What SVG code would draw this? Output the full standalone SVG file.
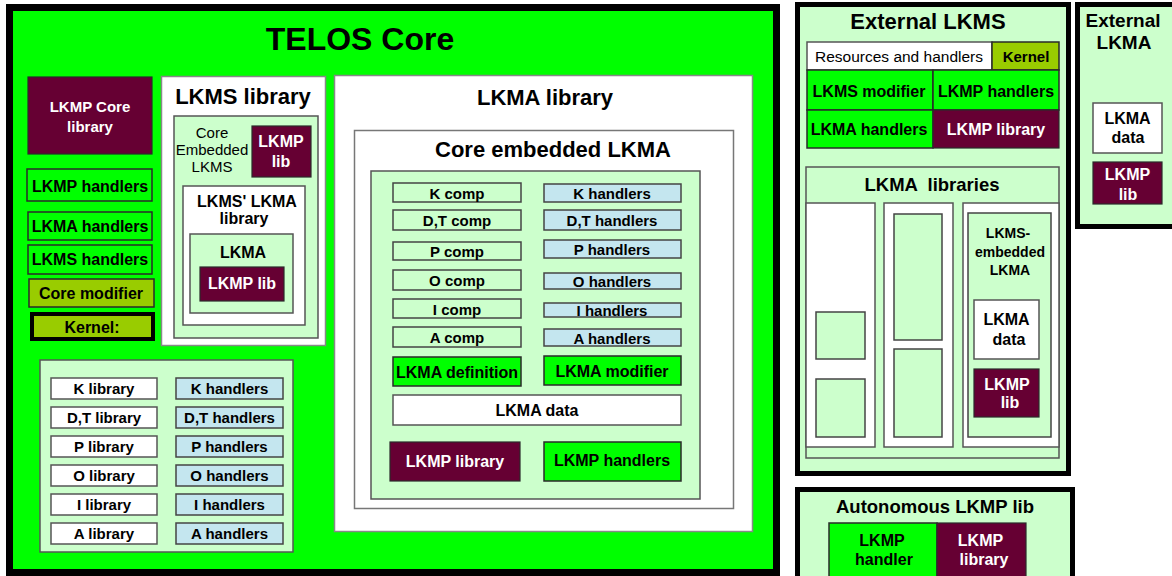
<svg xmlns="http://www.w3.org/2000/svg" width="1172" height="576" viewBox="0 0 1172 576">
<style>
text{font-family:"Liberation Sans",Arial,sans-serif;font-weight:bold;font-size:15px;text-anchor:middle;fill:#000}
.n{font-weight:normal}
.wt{fill:#fff}
.h{font-size:22px}
.s16{font-size:16px}
.s14{font-size:14px}
.g{fill:#00ff00;stroke:#2a2a2a;stroke-width:1.5}
.m{fill:#660033;stroke:#2a2a2a;stroke-width:1.2}
.lg{fill:#ccffcc;stroke:#555;stroke-width:1.5}
.w{fill:#fff;stroke:#555;stroke-width:1.5}
.wl{fill:#fff;stroke:#888;stroke-width:1.5}
.ol{fill:#99cc00;stroke:#2a2a2a;stroke-width:1.5}
.lb{fill:#c4e6ef;stroke:#444;stroke-width:1.5}
.c{fill:#ccffcc;stroke:#444;stroke-width:1.5}
.bk{fill:#ccffcc;stroke:#000;stroke-width:5}
.nb{fill:none;stroke:#555;stroke-width:1}
</style>

<g id="telos-core">
<rect x="9.5" y="7.5" width="767" height="565" fill="#00ff00" stroke="#000" stroke-width="7"/>
<text x="360" y="50" style="font-size:32px">TELOS Core</text>
</g>

<g id="lkmp-core-library">
<rect class="m" x="28" y="77" width="124" height="77"/>
<text class="wt" x="90" y="112">LKMP Core</text>
<text class="wt" x="90" y="132">library</text>
</g>
<g id="core-lkmp-handlers">
<rect class="g" x="27" y="169" width="125" height="32"/>
<text class="s16" x="90" y="192">LKMP handlers</text>
</g>
<g id="core-lkma-handlers">
<rect class="g" x="28" y="212" width="124" height="28"/>
<text class="s16" x="90" y="232">LKMA handlers</text>
</g>
<g id="core-lkms-handlers">
<rect class="g" x="28" y="245" width="124" height="29"/>
<text class="s16" x="90" y="265">LKMS handlers</text>
</g>
<g id="core-modifier">
<rect class="ol" x="29" y="279" width="125" height="28"/>
<text class="s16" x="91" y="299">Core modifier</text>
</g>
<g id="core-kernel">
<rect x="32" y="314" width="121" height="25" fill="#99cc00" stroke="#000" stroke-width="4"/>
<text class="s16" x="92" y="333">Kernel:</text>
</g>

<g id="lkms-library">
<rect class="wl" x="161.5" y="76.5" width="164" height="269"/>
<text class="h" x="243" y="104">LKMS library</text>
<rect class="lg" x="174" y="116" width="144" height="222"/>
<text class="n" x="212" y="138">Core</text>
<text class="n" x="212" y="155">Embedded</text>
<text class="n" x="212" y="172">LKMS</text>
<rect class="m" x="252" y="126" width="59" height="51"/>
<text class="wt s16" x="281" y="147">LKMP</text>
<text class="wt s16" x="281" y="167">lib</text>
<rect class="w" x="183" y="186" width="122" height="139"/>
<text class="s16" x="247" y="207">LKMS' LKMA</text>
<text class="s16" x="244" y="224">library</text>
<rect class="lg" x="190" y="234" width="103" height="79"/>
<text class="s16" x="243" y="258">LKMA</text>
<rect class="m" x="200" y="267" width="84" height="34"/>
<text class="wt s16" x="242" y="289">LKMP lib</text>
</g>

<g id="core-libraries">
<rect class="lg" x="40" y="360" width="253" height="192"/>
<rect class="w" x="51" y="378" width="106" height="21"/><text x="104" y="394">K library</text>
<rect class="lb" x="176" y="378" width="107" height="21"/><text x="229.5" y="394">K handlers</text>
<rect class="w" x="51" y="407" width="106" height="21"/><text x="104" y="423">D,T library</text>
<rect class="lb" x="176" y="407" width="107" height="21"/><text x="229.5" y="423">D,T handlers</text>
<rect class="w" x="51" y="436" width="106" height="21"/><text x="104" y="452">P library</text>
<rect class="lb" x="176" y="436" width="107" height="21"/><text x="229.5" y="452">P handlers</text>
<rect class="w" x="51" y="465" width="106" height="21"/><text x="104" y="481">O library</text>
<rect class="lb" x="176" y="465" width="107" height="21"/><text x="229.5" y="481">O handlers</text>
<rect class="w" x="51" y="494" width="106" height="21"/><text x="104" y="510">I library</text>
<rect class="lb" x="176" y="494" width="107" height="21"/><text x="229.5" y="510">I handlers</text>
<rect class="w" x="51" y="523" width="106" height="21"/><text x="104" y="539">A library</text>
<rect class="lb" x="176" y="523" width="107" height="21"/><text x="229.5" y="539">A handlers</text>
</g>

<g id="lkma-library">
<rect class="wl" x="334.5" y="75.5" width="418" height="456"/>
<text class="h" x="545" y="105">LKMA library</text>
</g>
<g id="core-embedded-lkma">
<rect class="wl" x="354.5" y="130.5" width="379" height="378" style="stroke:#777"/>
<text class="h" x="553" y="157">Core embedded LKMA</text>
<rect class="lg" x="371" y="171" width="329" height="328"/>
<rect class="c" x="393" y="183" width="128" height="19"/><text x="457" y="199">K comp</text>
<rect class="lb" x="544" y="184" width="137" height="18"/><text x="612" y="199">K handlers</text>
<rect class="c" x="393" y="210" width="128" height="20"/><text x="457" y="226">D,T comp</text>
<rect class="lb" x="544" y="210" width="137" height="20"/><text x="612" y="226">D,T handlers</text>
<rect class="c" x="393" y="242" width="128" height="18"/><text x="457" y="257">P comp</text>
<rect class="lb" x="544" y="240" width="137" height="18"/><text x="612" y="255">P handlers</text>
<rect class="c" x="393" y="270" width="128" height="20"/><text x="457" y="286">O comp</text>
<rect class="lb" x="544" y="273" width="137" height="16"/><text x="612" y="287">O handlers</text>
<rect class="c" x="393" y="299" width="128" height="19"/><text x="457" y="315">I comp</text>
<rect class="lb" x="544" y="303" width="137" height="14"/><text x="612" y="316">I handlers</text>
<rect class="c" x="393" y="327" width="128" height="20"/><text x="457" y="343">A comp</text>
<rect class="lb" x="544" y="329" width="137" height="17"/><text x="612" y="344">A handlers</text>
<rect class="g" x="393" y="357" width="128" height="29"/><text class="s16" x="457" y="378">LKMA definition</text>
<rect class="g" x="544" y="356" width="137" height="29"/><text class="s16" x="612" y="377">LKMA modifier</text>
<rect class="w" x="393" y="395" width="288" height="30"/><text class="s16" x="537" y="416">LKMA data</text>
<rect class="m" x="390" y="442" width="130" height="39"/><text class="wt s16" x="455" y="467">LKMP library</text>
<rect class="g" x="544" y="442" width="137" height="39"/><text class="s16" x="612" y="466">LKMP handlers</text>
</g>

<g id="external-lkms">
<rect class="bk" x="797.5" y="4.5" width="271" height="469"/>
<text class="h" x="928" y="29">External LKMS</text>
<rect class="w" x="807" y="42" width="185" height="28"/><text class="n" x="899" y="62" style="font-size:15.5px">Resources and handlers</text>
<rect class="ol" x="992" y="42" width="67" height="28"/><text x="1026" y="62">Kernel</text>
<rect class="g" x="807" y="70" width="126" height="40"/><text class="s16" x="869" y="97">LKMS modifier</text>
<rect class="g" x="933" y="70" width="126" height="40"/><text class="s16" x="996" y="97">LKMP handlers</text>
<rect class="g" x="807" y="110" width="126" height="38"/><text class="s16" x="869" y="135">LKMA handlers</text>
<rect class="m" x="933" y="110" width="126" height="38"/><text class="wt s16" x="996" y="135">LKMP library</text>
</g>

<g id="lkma-libraries">
<rect class="lg" x="806" y="167" width="253" height="291"/>
<text x="932" y="191" xml:space="preserve" style="font-size:18.5px">LKMA  libraries</text>
<rect class="w" x="806" y="203" width="69" height="244"/>
<rect class="c" x="816" y="312" width="49" height="47"/>
<rect class="c" x="816" y="379" width="49" height="58"/>
<rect class="w" x="884" y="203" width="69" height="244"/>
<rect class="c" x="894" y="214" width="48" height="126"/>
<rect class="c" x="894" y="349" width="48" height="88"/>
<rect class="w" x="963" y="203" width="96" height="244"/>
<rect class="c" x="968" y="213" width="83" height="224"/>
<text class="s14" x="1008" y="238">LKMS-</text>
<text class="s14" x="1010" y="257">embedded</text>
<text class="s14" x="1010" y="275">LKMA</text>
<rect class="w" x="974" y="300" width="65" height="59"/>
<text class="s16" x="1006.5" y="325">LKMA</text>
<text class="s16" x="1009" y="345">data</text>
<rect class="m" x="974" y="369" width="65" height="48"/>
<text class="wt s16" x="1007" y="390">LKMP</text>
<text class="wt s16" x="1010" y="408">lib</text>
</g>

<g id="external-lkma">
<rect class="bk" x="1077.5" y="4.5" width="100" height="222"/>
<text x="1123" y="27" style="font-size:19px">External</text>
<text x="1124" y="49" style="font-size:19px">LKMA</text>
<rect class="w" x="1093" y="103" width="69" height="50"/>
<text class="s16" x="1127.5" y="124">LKMA</text>
<text class="s16" x="1128" y="143">data</text>
<rect class="m" x="1093" y="162" width="69" height="42"/>
<text class="wt s16" x="1127.5" y="180">LKMP</text>
<text class="wt s16" x="1128" y="200">lib</text>
</g>

<g id="autonomous-lkmp-lib">
<rect class="bk" x="797.5" y="489.5" width="275" height="95"/>
<text x="935" y="513" style="font-size:18.5px">Autonomous LKMP lib</text>
<rect class="g" x="829" y="523" width="108" height="60"/>
<text class="s16" x="882" y="546">LKMP</text>
<text class="s16" x="884" y="565">handler</text>
<rect class="m" x="937" y="523" width="89" height="60"/>
<text class="wt s16" x="980.5" y="546">LKMP</text>
<text class="wt s16" x="984" y="565">library</text>
</g>

<g id="connectors"></g>
</svg>
